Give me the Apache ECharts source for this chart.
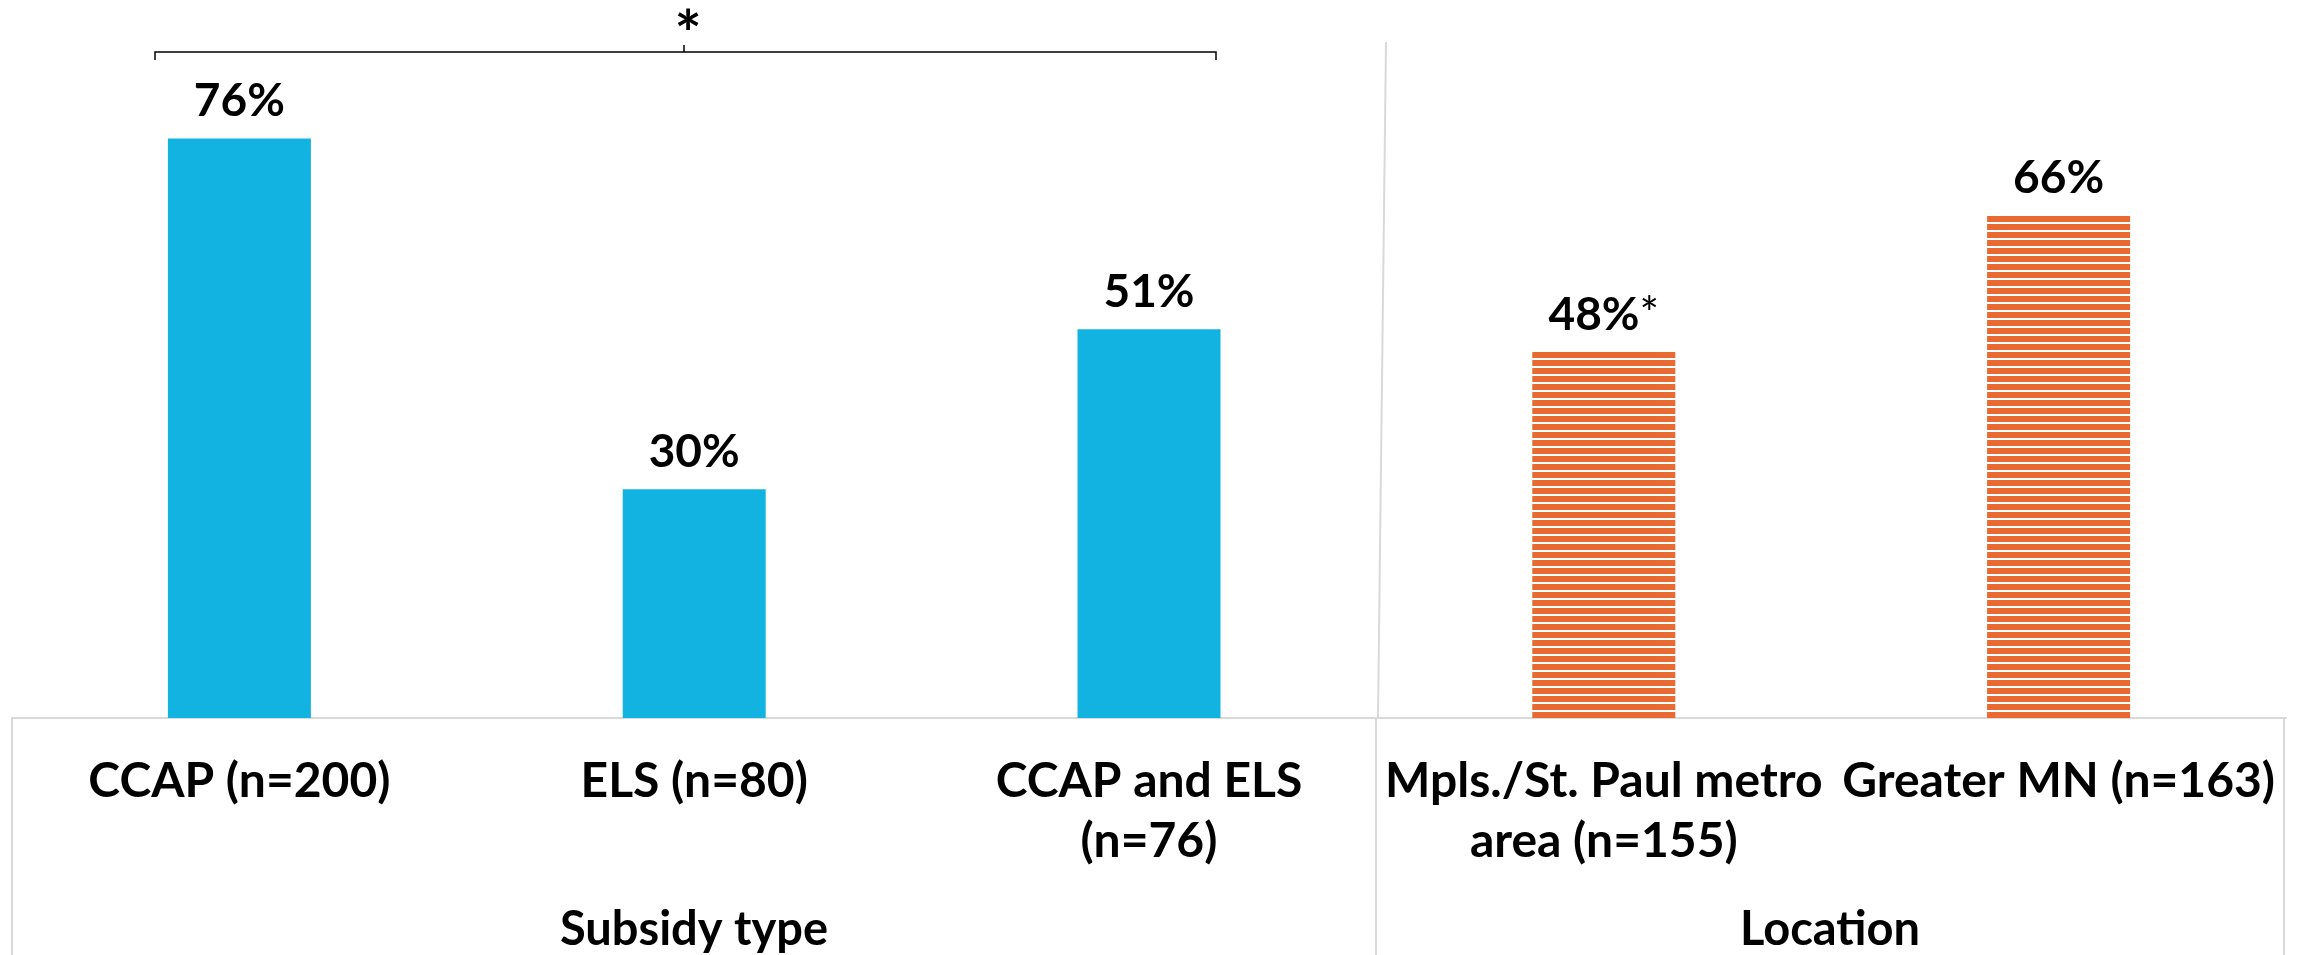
<!DOCTYPE html>
<html>
<head>
<meta charset="utf-8">
<style>
  html, body { margin: 0; padding: 0; background: #ffffff; }
  #chart { width: 2308px; height: 955px; }
</style>
<script src="https://cdn.jsdelivr.net/npm/echarts@6/dist/echarts.min.js"></script>
</head>
<body>
<div id="chart"></div>
<script>
// ---- data ----
var categories = [
  'CCAP (n=200)',
  'ELS (n=80)',
  'CCAP and ELS\n(n=76)',
  'Mpls./St. Paul metro\narea (n=155)',
  'Greater MN (n=163)'
];
var subsidyValues = [76, 30, 51, '-', '-'];
var locationValues = ['-', '-', '-', 48, 66];
var significanceMarks = ['', '', '', '*', ''];
var groupNames = ['Subsidy type', 'Location'];
var bracketMark = '*';

// ---- styles ----
var BLUE = '#12B3E1';
var ORANGE = '#E96932';
var GRID_LINE = '#D9D9D9';
var FONT = 'Lato';

function stripePattern() {
  var c = document.createElement('canvas');
  c.width = 8; c.height = 8;
  var ctx = c.getContext('2d');
  ctx.fillStyle = '#ffffff';
  ctx.fillRect(0, 0, 8, 8);
  ctx.fillStyle = ORANGE;
  ctx.fillRect(0, 0, 8, 6);
  return c;
}

var chart = echarts.init(document.getElementById('chart'), null, { renderer: 'canvas' });

var labelCommon = {
  show: true,
  position: 'top',
  distance: 14,
  color: '#000',
  fontFamily: FONT,
  fontWeight: 'bold',
  fontSize: 46
};

var option = {
  animation: false,
  backgroundColor: '#ffffff',
  grid: { left: 12, right: 22, top: 108, bottom: 237, containLabel: false },
  xAxis: {
    type: 'category',
    data: categories,
    axisLine: { show: true, lineStyle: { color: GRID_LINE, width: 2 } },
    axisTick: { show: false },
    axisLabel: {
      interval: 0,
      margin: 34,
      color: '#000',
      fontFamily: FONT,
      fontWeight: 'bold',
      fontSize: 48,
      lineHeight: 60
    },
    splitLine: { show: false }
  },
  yAxis: {
    type: 'value',
    min: 0,
    max: 80,
    show: false,
    splitLine: { show: false }
  },
  series: [
    {
      type: 'bar',
      stack: 'all',
      barWidth: 143,
      data: subsidyValues,
      itemStyle: { color: BLUE },
      label: Object.assign({}, labelCommon, {
        formatter: function (p) { return p.value + '%'; }
      })
    },
    {
      type: 'bar',
      stack: 'all',
      barWidth: 143,
      data: locationValues,
      itemStyle: { color: { image: stripePattern(), repeat: 'repeat' } },
      label: Object.assign({}, labelCommon, {
        formatter: function (p) {
          var m = significanceMarks[p.dataIndex];
          return '{v|' + p.value + '%}' + (m ? '{s|' + m + '}' : '');
        },
        rich: {
          v: { fontFamily: FONT, fontWeight: 'bold', fontSize: 46, color: '#000' },
          s: { fontFamily: FONT, fontWeight: 'normal', fontSize: 46, color: '#000' }
        }
      })
    }
  ],
  graphic: [
    // bracket over subsidy-type bars
    { type: 'polyline', shape: { points: [[155, 60], [155, 52], [1216, 52], [1216, 60]] },
      style: { stroke: '#000', lineWidth: 1.5, fill: null } },
    { type: 'line', shape: { x1: 684, y1: 52, x2: 684, y2: 45 }, style: { stroke: '#000', lineWidth: 1.5 } },
    { type: 'text', x: 688, y: 36,
      style: { text: bracketMark, font: 'bold 64px ' + FONT, fill: '#000', align: 'center', verticalAlign: 'middle' } },
    // panel separators / borders
    { type: 'line', shape: { x1: 1386, y1: 42, x2: 1378, y2: 718 }, style: { stroke: GRID_LINE, lineWidth: 2 } },
    { type: 'line', shape: { x1: 1376, y1: 718, x2: 1376, y2: 955 }, style: { stroke: GRID_LINE, lineWidth: 2 } },
    { type: 'line', shape: { x1: 12, y1: 718, x2: 12, y2: 955 }, style: { stroke: GRID_LINE, lineWidth: 2 } },
    { type: 'line', shape: { x1: 2284, y1: 718, x2: 2284, y2: 955 }, style: { stroke: GRID_LINE, lineWidth: 2 } },
    // group names
    { type: 'text', x: 694, y: 930,
      style: { text: groupNames[0], font: 'bold 47px ' + FONT, fill: '#000', align: 'center', verticalAlign: 'middle' } },
    { type: 'text', x: 1830, y: 930,
      style: { text: groupNames[1], font: 'bold 47px ' + FONT, fill: '#000', align: 'center', verticalAlign: 'middle' } }
  ]
};

chart.setOption(option);
</script>
</body>
</html>
